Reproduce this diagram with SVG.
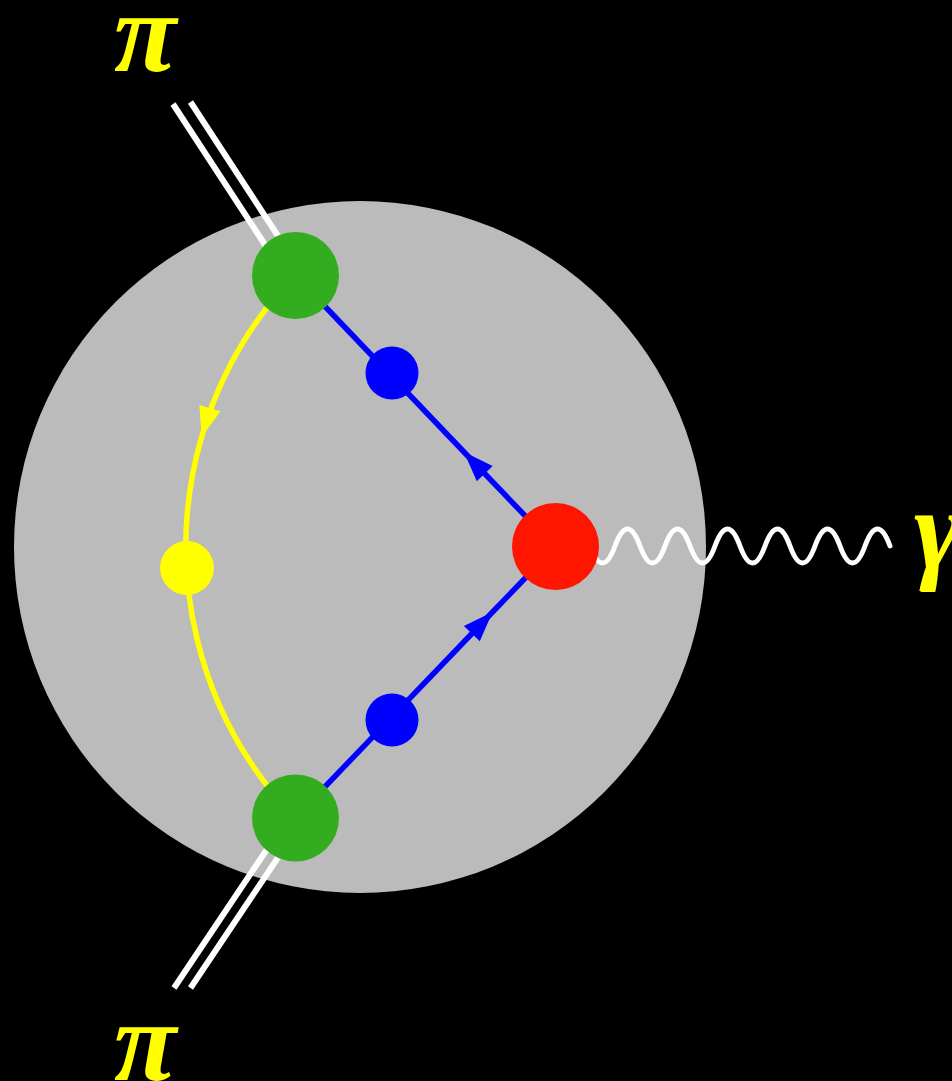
<svg xmlns="http://www.w3.org/2000/svg" width="952" height="1081" viewBox="0 0 952 1081">
  <style>
    .lbl { font-family: "Liberation Serif", "DejaVu Serif", serif; font-style: italic; font-weight: bold; font-size: 114px; fill: #ffff00; }
    .pion { stroke: #ffffff; stroke-width: 6; fill: none; }
    .quark { stroke: #0000ff; stroke-width: 5.5; fill: none; }
    .yq { stroke: #ffff00; stroke-width: 5.5; fill: none; }
    .photon { stroke: #ffffff; stroke-width: 5; fill: none; stroke-linecap: round; }
  </style>
  <defs>
    <marker id="arrBlue" markerUnits="userSpaceOnUse" markerWidth="40" markerHeight="40" viewBox="-34 -14 40 28" refX="0" refY="0" orient="auto">
      <path d="M0,0 L-30,-11 L-30,11 Z" fill="#0000ff"/>
    </marker>
    <marker id="arrYellow" markerUnits="userSpaceOnUse" markerWidth="40" markerHeight="40" viewBox="-34 -14 40 28" refX="0" refY="0" orient="auto">
      <path d="M0,0 L-30,-11 L-30,11 Z" fill="#ffff00"/>
    </marker>
  </defs>
  <rect x="0" y="0" width="952" height="1081" fill="#000000"/>
  <g id="hadron">
    <circle cx="360" cy="547" r="346" fill="#bbbbbb"/>
  </g>
  <g id="connectors">
    <line class="pion" x1="173" y1="104" x2="286" y2="277"/>
    <line class="pion" x1="190.5" y1="102" x2="303.5" y2="275"/>
    <line class="pion" x1="174" y1="988" x2="288" y2="818"/>
    <line class="pion" x1="190.5" y1="988" x2="304.5" y2="818"/>
    <path class="yq" d="M295,275 A392.6,392.6 0 0 0 201.6,437 A392.6,392.6 0 0 0 295,818" marker-mid="url(#arrYellow)"/>
    <path class="quark" d="M555,547 L464,452 L295,275" marker-mid="url(#arrBlue)"/>
    <path class="quark" d="M295,818 L492.6,612 L555,547" marker-mid="url(#arrBlue)"/>
    <path class="photon" d="M590,546 Q602.5,580 615,546 T640,546 T665,546 T690,546 T715,546 T740,546 T765,546 T790,546 T815,546 T840,546 T865,546 T890,546"/>
  </g>
  <g id="pi-top-vertex"><circle cx="295.5" cy="275.5" r="43.5" fill="#33ad1f"/></g>
  <g id="pi-bottom-vertex"><circle cx="295.5" cy="818" r="43.5" fill="#33ad1f"/></g>
  <g id="quark-top"><circle cx="392" cy="373" r="26.5" fill="#0000ff"/></g>
  <g id="quark-bottom"><circle cx="392" cy="720" r="26.5" fill="#0000ff"/></g>
  <g id="photon-vertex"><circle cx="555.5" cy="546.5" r="43.5" fill="#ff1500"/></g>
  <g id="spectator"><circle cx="187" cy="568" r="27" fill="#ffff00"/></g>
  <g id="labels">
    <text class="lbl" x="145" y="71" text-anchor="middle">π</text>
    <text class="lbl" x="145" y="1080" text-anchor="middle">π</text>
    <text class="lbl" x="914" y="568">γ</text>
  </g>
</svg>
